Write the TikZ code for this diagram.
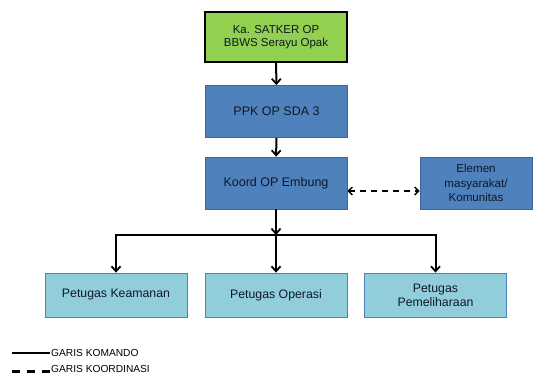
\documentclass[tikz,border=0pt]{standalone}
\usepackage{fontspec}
\setmainfont{Liberation Sans}
\usepackage{xcolor}
\usetikzlibrary{arrows.meta, positioning}

\definecolor{satkergreen}{HTML}{92D050}
\definecolor{ppkblue}{HTML}{4F81BD}
\definecolor{ppkborder}{HTML}{3A679E}
\definecolor{staffblue}{HTML}{92CDDC}
\definecolor{staffborder}{HTML}{4F81BD}
\definecolor{boxtext}{HTML}{101828}

\tikzset{
    unitbox/.style={rectangle, draw, line width=0.8pt, align=center, inner sep=2pt, text=boxtext},
    headbox/.style={unitbox, fill=satkergreen, draw=black, line width=1.2pt, minimum width=142pt, minimum height=50pt, font=\fontsize{11.5}{13}\selectfont},
    midbox/.style={unitbox, fill=ppkblue, draw=ppkborder, minimum width=142pt, minimum height=52pt, font=\fontsize{12.5}{14.5}\selectfont},
    sidebox/.style={unitbox, fill=ppkblue, draw=ppkborder, minimum width=112pt, minimum height=52pt, font=\fontsize{11.6}{14.5}\selectfont},
    staffbox/.style={unitbox, fill=staffblue, draw=staffborder, minimum width=142pt, minimum height=44pt, font=\fontsize{12.3}{14}\selectfont},
    komando/.style={line width=2pt, -{Straight Barb[length=5pt, width=9pt, line width=1.8pt]}},
    koordinasi/.style={line width=1.6pt, dash pattern=on 6pt off 5pt, {Straight Barb[length=4pt, width=8pt, line width=1.4pt]}-{Straight Barb[length=4pt, width=8pt, line width=1.4pt]}},
    legendtext/.style={font=\fontsize{10.2}{11}\selectfont, inner sep=1pt}
}

\begin{document}
\begin{tikzpicture}[x=1pt, y=-1pt]
    \useasboundingbox (0,0) rectangle (537,376);

    % struktur organisasi
    \node[headbox] (satker) at (276,37) {Ka. SATKER OP\\BBWS Serayu Opak};
    \node[midbox] (ppk) at (276.5,111.5) {PPK OP SDA 3};
    \node[midbox] (koord) at (276,183) {Koord OP Embung};
    \node[sidebox] (elemen) at (476,183) {Elemen\\masyarakat/\\Komunitas};

    \node[staffbox] (keamanan) at (116,295) {Petugas Keamanan};
    \node[staffbox] (operasi) at (276,295) {Petugas Operasi};
    \node[staffbox] (pemeliharaan) at (435.5,295) {Petugas\\Pemeliharaan};

    \coordinate (split) at (276,235);

    \draw[komando] (satker) -- (ppk);
    \draw[komando] (ppk) -- (koord);
    \draw[komando] (koord) -- (split);
    \draw[komando] (split) -- (operasi);
    \draw[komando] (split) -| (keamanan.north);
    \draw[komando] (split) -| (pemeliharaan.north);

    \draw[koordinasi] ([yshift=-8pt]koord.east) -- ([yshift=-8pt]elemen.west);

    % keterangan
    \node[legendtext, anchor=west] (lkomando) at (50,353) {GARIS KOMANDO};
    \node[legendtext, anchor=west] (lkoordinasi) at (50,368.5) {GARIS KOORDINASI};
    \coordinate (kstart) at (12,353);
    \coordinate (dstart) at (12,371);
    \draw[line width=2pt] (kstart) -- (lkomando.west);
    \draw[line width=3pt, dash pattern=on 8pt off 7pt] (dstart) -- (dstart -| lkoordinasi.west);
\end{tikzpicture}
\end{document}
